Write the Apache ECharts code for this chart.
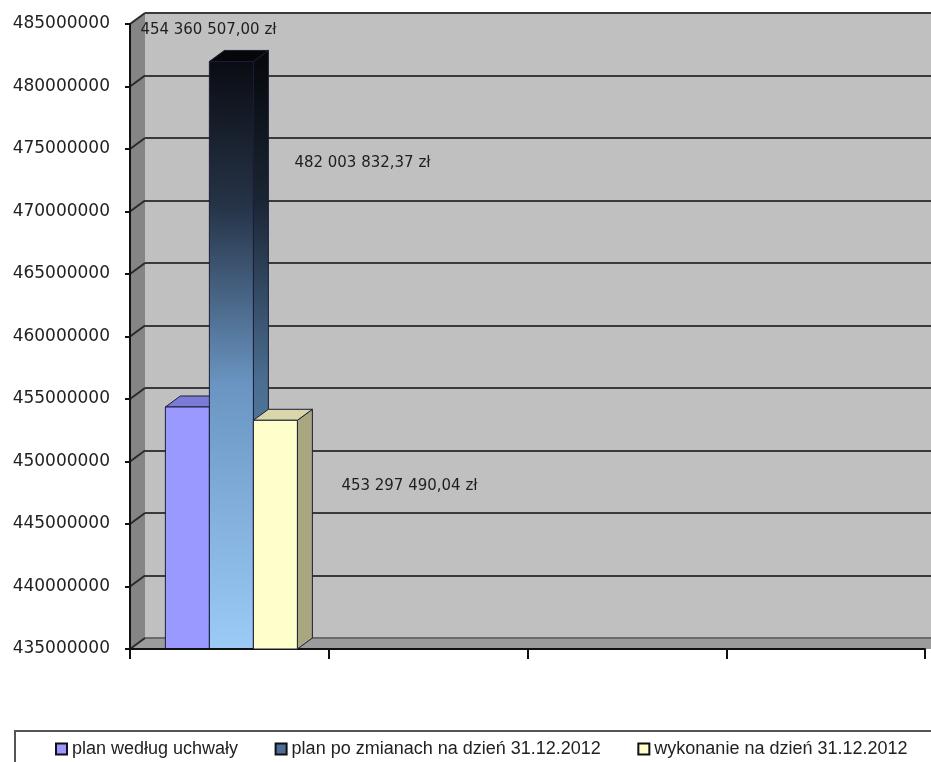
<!DOCTYPE html>
<html>
<head>
<meta charset="utf-8">
<script src="https://cdn.jsdelivr.net/npm/echarts@6/dist/echarts.min.js"></script>
<style>
  html, body { margin: 0; padding: 0; background: #ffffff; }
  #chart { width: 931px; height: 762px; }
</style>
</head>
<body>
<div id="chart"></div>
<script>
// ---- data ----
const categories = ['', '', '', ''];
const seriesNames = ['plan według uchwały', 'plan po zmianach na dzień 31.12.2012', 'wykonanie na dzień 31.12.2012'];
const planWedlugUchwaly = [454360507.00];
const planPoZmianach = [482003832.37];
const wykonanie = [453297490.04];
const yTicks = [435000000, 440000000, 445000000, 450000000, 455000000, 460000000, 465000000, 470000000, 475000000, 480000000, 485000000];

// ---- style constants ----
const Y_MIN = 435000000, Y_MAX = 485000000, Y_INT = 5000000;
const DX = 15, DY = 11;       // 3D depth offset
const BAR_W = 44;
const GROUP_SHIFT = 2;
const labelOffsets = [[-25, -377], [85, 102], [88, 66]];

function fmtZl(v) {
  const parts = v.toFixed(2).split('.');
  return parts[0].replace(/\B(?=(\d{3})+(?!\d))/g, ' ') + ',' + parts[1] + ' zł';
}

const G = echarts.graphic;
const faceStyles = [
  { front: '#9999FF', top: '#7b7bd6', side: '#6c6cc0' },
  {
    front: new G.LinearGradient(0, 0, 0, 1, [
      { offset: 0, color: '#0a0c12' }, { offset: 0.25, color: '#263448' },
      { offset: 0.55, color: '#6a95c2' }, { offset: 1, color: '#9ccbf8' }]),
    top: '#060708',
    side: new G.LinearGradient(0, 0, 0, 1, [
      { offset: 0, color: '#05070a' }, { offset: 0.25, color: '#1a2533' },
      { offset: 0.55, color: '#4a6d90' }, { offset: 1, color: '#6f97bf' }])
  },
  { front: '#FFFFCC', top: '#d9d7a9', side: '#a9a780' }
];

function makeBarRender(k) {
  return function (params, api) {
    const cat = api.value(0), v = api.value(1);
    const top = api.coord([cat, v]);
    const bot = api.coord([cat, Y_MIN]);
    const xl = top[0] - 1.5 * BAR_W + k * BAR_W + GROUP_SHIFT;
    const xr = xl + BAR_W;
    const yt = top[1], yb = bot[1];
    const st = faceStyles[k];
    const stroke = '#1c1c3a';
    return {
      type: 'group',
      children: [
        { type: 'polygon', shape: { points: [[xr, yt], [xr + DX, yt - DY], [xr + DX, yb - DY], [xr, yb]] },
          style: { fill: st.side, stroke: stroke, lineWidth: 1 } },
        { type: 'polygon', shape: { points: [[xl, yt], [xl + DX, yt - DY], [xr + DX, yt - DY], [xr, yt]] },
          style: { fill: st.top, stroke: stroke, lineWidth: 1 } },
        { type: 'rect', shape: { x: xl, y: yt, width: BAR_W, height: yb - yt },
          style: { fill: st.front, stroke: stroke, lineWidth: 1 } },
        { type: 'text', z2: 10,
          style: { x: xl + labelOffsets[k][0], y: yt + labelOffsets[k][1], text: fmtZl(v),
                   fill: '#1e1e1e', font: '15px "DejaVu Sans"', verticalAlign: 'middle', align: 'left' } }
      ]
    };
  };
}

function wallRender(params, api) {
  const cs = params.coordSys;
  const x0 = cs.x, ytop = cs.y, ybot = cs.y + cs.height, w = cs.width;
  const y = api.coord([0, api.value(1)])[1];
  const children = [];
  if (params.dataIndex === 0) {
    children.push({ type: 'polygon', shape: { points: [[x0, ytop], [x0 + DX, ytop - DY], [x0 + DX, ybot - DY], [x0, ybot]] },
      style: { fill: '#858585' } });
    children.push({ type: 'polygon', shape: { points: [[x0, ybot], [x0 + DX, ybot - DY], [x0 + w + 60, ybot - DY], [x0 + w + 60, ybot]] },
      style: { fill: '#9c9c9c' } });
    children.push({ type: 'line', shape: { x1: x0 + DX, y1: ybot - DY, x2: x0 + w + 60, y2: ybot - DY },
      style: { stroke: '#6a6a6a', lineWidth: 2 } });
  }
  children.push({ type: 'line', shape: { x1: x0, y1: y, x2: x0 + DX, y2: y - DY },
    style: { stroke: '#2a2a2a', lineWidth: 2 } });
  return { type: 'group', children: children };
}

const chart = echarts.init(document.getElementById('chart'), null, { renderer: 'canvas' });
const barData = [planWedlugUchwaly, planPoZmianach, wykonanie];
const legendColors = ['#9999FF', '#4d6f96', '#FFFFCC'];

const option = {
  animation: false,
  backgroundColor: '#ffffff',
  grid: [
    { left: 130, right: 6, top: 24, bottom: 113, show: false },
    { left: 145, right: 0, top: 13, bottom: 124, show: true, backgroundColor: '#C0C0C0', borderWidth: 0 }
  ],
  xAxis: [
    { type: 'category', gridIndex: 0, data: categories, z: 4,
      axisLine: { show: true, lineStyle: { color: '#111', width: 2 } },
      axisTick: { show: true, length: 10, lineStyle: { color: '#111', width: 2 } },
      axisLabel: { show: false }, splitLine: { show: false } },
    { type: 'category', gridIndex: 1, data: categories, show: false }
  ],
  yAxis: [
    { type: 'value', gridIndex: 0, min: Y_MIN, max: Y_MAX, interval: Y_INT, z: 4,
      axisLine: { show: true, lineStyle: { color: '#111', width: 2 } },
      axisTick: { show: true, length: 5, lineStyle: { color: '#111', width: 2 } },
      axisLabel: { margin: 20, color: '#222', fontFamily: 'DejaVu Sans', fontSize: 17, formatter: v => String(v) },
      splitLine: { show: false } },
    { type: 'value', gridIndex: 1, min: Y_MIN, max: Y_MAX, interval: Y_INT,
      axisLine: { show: false }, axisTick: { show: false }, axisLabel: { show: false },
      splitLine: { show: true, lineStyle: { color: '#3a3a3a', width: 2 } } }
  ],
  legend: {
    data: seriesNames,
    left: 55, top: 740, padding: 0,
    icon: 'rect', itemWidth: 11, itemHeight: 11, itemGap: 36.5,
    itemStyle: { borderColor: '#111', borderWidth: 2 },
    textStyle: { fontFamily: 'Liberation Sans', fontSize: 18, color: '#222' }
  },
  graphic: [
    { type: 'rect', left: 14, top: 730, shape: { width: 940, height: 60 }, z: -1,
      style: { fill: '#ffffff', stroke: '#555', lineWidth: 2 } }
  ],
  series: [
    { name: 'walls', type: 'custom', xAxisIndex: 0, yAxisIndex: 0, z: 1, silent: true, clip: false,
      data: yTicks.map(v => [0, v]), renderItem: wallRender }
  ].concat(barData.map((arr, k) => ({
    name: seriesNames[k], type: 'custom', xAxisIndex: 0, yAxisIndex: 0, z: 3 + k, clip: false,
    itemStyle: { color: legendColors[k] },
    data: arr.map((v, i) => [i, v]),
    renderItem: makeBarRender(k)
  })))
};
chart.setOption(option);
</script>
</body>
</html>
